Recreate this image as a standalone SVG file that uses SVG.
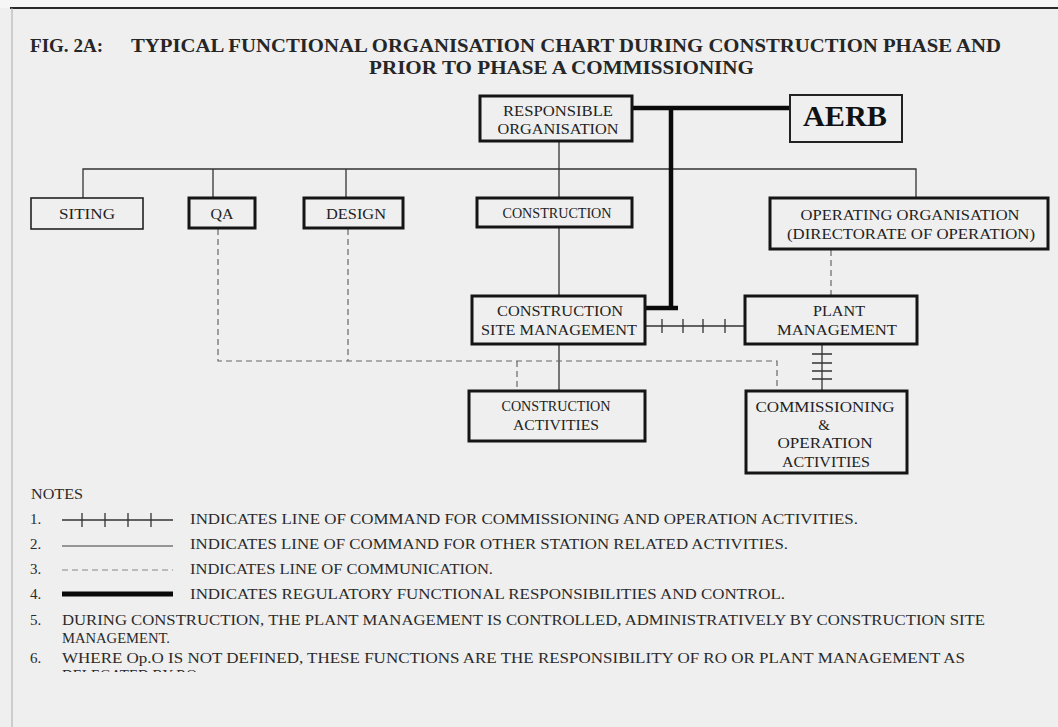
<svg xmlns="http://www.w3.org/2000/svg" width="1058" height="727" viewBox="0 0 1058 727">
<style>
  .box{fill:none;stroke:#151515;stroke-width:3}
  .thin{fill:none;stroke:#222;stroke-width:1.6}
  .med{fill:none;stroke:#222;stroke-width:2}
  .lbl{font-family:"Liberation Serif","Times New Roman",serif;font-size:15px;fill:#222;text-anchor:middle}
  .title{font-family:"Liberation Serif","Times New Roman",serif;font-size:18px;font-weight:bold;fill:#262626}
  .note{font-family:"Liberation Serif","Times New Roman",serif;font-size:15px;fill:#2a2a2a}
  .solid{stroke:#333;stroke-width:1.3;fill:none}
  .dash{stroke:#666;stroke-width:1.2;fill:none;stroke-dasharray:6,4}
  .reg{stroke:#0a0a0a;stroke-width:4.5;fill:none}
  .tick{stroke:#333;stroke-width:1.3;fill:none}
</style>
<defs>
  <clipPath id="cut"><rect x="0" y="0" width="1058" height="672"/></clipPath>
</defs>
<rect width="1058" height="727" fill="#efefef"/>
<rect width="1058" height="8" fill="#f6f6f6"/>
<line x1="10" y1="8" x2="1058" y2="8" stroke="#2a2a2a" stroke-width="2"/>
<line x1="12" y1="8" x2="12" y2="727" stroke="#aaa" stroke-width="1"/>

<g id="title">
  <text class="title" x="30" y="52" textLength="73" lengthAdjust="spacingAndGlyphs">FIG. 2A:</text>
  <text class="title" x="131" y="52" textLength="870" lengthAdjust="spacingAndGlyphs">TYPICAL FUNCTIONAL ORGANISATION CHART DURING CONSTRUCTION PHASE AND</text>
  <text class="title" x="369" y="74" textLength="385" lengthAdjust="spacingAndGlyphs">PRIOR TO PHASE A COMMISSIONING</text>
</g>

<g id="connectors">
  <polyline class="solid" points="83,198 83,169 916,169 916,198"/>
  <line class="solid" x1="213" y1="169" x2="213" y2="198"/>
  <line class="solid" x1="346" y1="169" x2="346" y2="198"/>
  <line class="solid" x1="559" y1="141" x2="559" y2="198"/>
  <line class="solid" x1="559" y1="227" x2="559" y2="296"/>
  <line class="solid" x1="559" y1="344" x2="559" y2="391"/>
  <polyline class="reg" points="632,108 790,108"/>
  <polyline class="reg" points="671,108 671,308"/>
  <polyline class="reg" points="645,308 678,308"/>
  <line class="tick" x1="645" y1="326" x2="745" y2="326"/>
  <path class="tick" d="M662,319V333M683,319V333M703,319V333M725,319V333"/>
  <line class="tick" x1="822" y1="344" x2="822" y2="391"/>
  <path class="tick" d="M812,354H832M812,363H832M812,371H832M812,379H832"/>
  <polyline class="dash" points="218,229 218,361 777,361 777,391"/>
  <line class="dash" x1="348" y1="229" x2="348" y2="361"/>
  <line class="dash" x1="517" y1="361" x2="517" y2="391"/>
  <line class="dash" x1="831" y1="250" x2="831" y2="296"/>
</g>

<g id="ro">
  <rect class="box" x="480" y="96" width="152" height="45"/>
  <text class="lbl" x="558" y="116" textLength="110" lengthAdjust="spacingAndGlyphs">RESPONSIBLE</text>
  <text class="lbl" x="558" y="134" textLength="121" lengthAdjust="spacingAndGlyphs">ORGANISATION</text>
</g>
<g id="aerb">
  <rect class="med" x="790" y="95" width="112" height="47"/>
  <text x="845" y="126" text-anchor="middle" font-family="'Liberation Serif','Times New Roman',serif" font-weight="bold" font-size="29" fill="#111" textLength="84" lengthAdjust="spacingAndGlyphs">AERB</text>
</g>
<g id="siting">
  <rect class="thin" x="31" y="198" width="112" height="31"/>
  <text class="lbl" x="87" y="219" textLength="56" lengthAdjust="spacingAndGlyphs">SITING</text>
</g>
<g id="qa">
  <rect class="box" x="189" y="198" width="66" height="30"/>
  <text class="lbl" x="222" y="219" textLength="23" lengthAdjust="spacingAndGlyphs">QA</text>
</g>
<g id="design">
  <rect class="box" x="304" y="198" width="99" height="30"/>
  <text class="lbl" x="356" y="219" textLength="60" lengthAdjust="spacingAndGlyphs">DESIGN</text>
</g>
<g id="construction">
  <rect class="box" x="477" y="198" width="155" height="29"/>
  <text class="lbl" x="557" y="218" textLength="109" lengthAdjust="spacingAndGlyphs">CONSTRUCTION</text>
</g>
<g id="operating-organisation">
  <rect class="box" x="770" y="198" width="278" height="51"/>
  <text class="lbl" x="910" y="220" textLength="219" lengthAdjust="spacingAndGlyphs">OPERATING ORGANISATION</text>
  <text class="lbl" x="911" y="239" textLength="248" lengthAdjust="spacingAndGlyphs">(DIRECTORATE OF OPERATION)</text>
</g>
<g id="construction-site-management">
  <rect class="box" x="472" y="296" width="173" height="48"/>
  <text class="lbl" x="560" y="316" textLength="126" lengthAdjust="spacingAndGlyphs">CONSTRUCTION</text>
  <text class="lbl" x="559" y="335" textLength="156" lengthAdjust="spacingAndGlyphs">SITE MANAGEMENT</text>
</g>
<g id="plant-management">
  <rect class="box" x="745" y="296" width="172" height="48"/>
  <text class="lbl" x="839" y="316" textLength="52" lengthAdjust="spacingAndGlyphs">PLANT</text>
  <text class="lbl" x="837" y="335" textLength="120" lengthAdjust="spacingAndGlyphs">MANAGEMENT</text>
</g>
<g id="construction-activities">
  <rect class="box" x="469" y="391" width="176" height="50"/>
  <text class="lbl" x="556" y="411" textLength="109" lengthAdjust="spacingAndGlyphs">CONSTRUCTION</text>
  <text class="lbl" x="556" y="430" textLength="86" lengthAdjust="spacingAndGlyphs">ACTIVITIES</text>
</g>
<g id="commissioning-operation-activities">
  <rect class="box" x="746" y="391" width="161" height="82"/>
  <text class="lbl" x="825" y="412" textLength="139" lengthAdjust="spacingAndGlyphs">COMMISSIONING</text>
  <text class="lbl" x="824" y="430">&amp;</text>
  <text class="lbl" x="825" y="448" textLength="95" lengthAdjust="spacingAndGlyphs">OPERATION</text>
  <text class="lbl" x="826" y="467" textLength="88" lengthAdjust="spacingAndGlyphs">ACTIVITIES</text>
</g>

<g id="notes">
  <text class="note" x="31" y="499" font-size="14" textLength="52" lengthAdjust="spacingAndGlyphs">NOTES</text>
  <text class="note" x="30" y="524">1.</text>
  <line class="tick" x1="62" y1="520" x2="173" y2="520"/>
  <path class="tick" d="M82,513V527M105,513V527M128,513V527M151,513V527"/>
  <text class="note" x="190" y="524" textLength="668" lengthAdjust="spacingAndGlyphs">INDICATES LINE OF COMMAND FOR COMMISSIONING AND OPERATION ACTIVITIES.</text>
  <text class="note" x="30" y="549">2.</text>
  <line x1="62" y1="546" x2="173" y2="546" stroke="#777" stroke-width="1.6"/>
  <text class="note" x="190" y="549" textLength="598" lengthAdjust="spacingAndGlyphs">INDICATES LINE OF COMMAND FOR OTHER STATION RELATED ACTIVITIES.</text>
  <text class="note" x="30" y="574">3.</text>
  <line x1="62" y1="570" x2="173" y2="570" stroke="#888" stroke-width="1.2" stroke-dasharray="6,4"/>
  <text class="note" x="190" y="574" textLength="303" lengthAdjust="spacingAndGlyphs">INDICATES LINE OF COMMUNICATION.</text>
  <text class="note" x="30" y="599">4.</text>
  <line x1="62" y1="594" x2="173" y2="594" stroke="#0a0a0a" stroke-width="5"/>
  <text class="note" x="190" y="599" textLength="595" lengthAdjust="spacingAndGlyphs">INDICATES REGULATORY FUNCTIONAL RESPONSIBILITIES AND CONTROL.</text>
  <text class="note" x="30" y="625">5.</text>
  <text class="note" x="62" y="625" textLength="923" lengthAdjust="spacingAndGlyphs">DURING CONSTRUCTION, THE PLANT MANAGEMENT IS CONTROLLED, ADMINISTRATIVELY BY CONSTRUCTION SITE</text>
  <text class="note" x="62" y="643" textLength="108" lengthAdjust="spacingAndGlyphs">MANAGEMENT.</text>
  <text class="note" x="30" y="663">6.</text>
  <text class="note" x="62" y="663" textLength="903" lengthAdjust="spacingAndGlyphs">WHERE Op.O IS NOT DEFINED, THESE FUNCTIONS ARE THE RESPONSIBILITY OF RO OR PLANT MANAGEMENT AS</text>
  <text class="note" x="62" y="680" textLength="135" lengthAdjust="spacingAndGlyphs" clip-path="url(#cut)">DELEGATED BY RO</text>
</g>
</svg>
